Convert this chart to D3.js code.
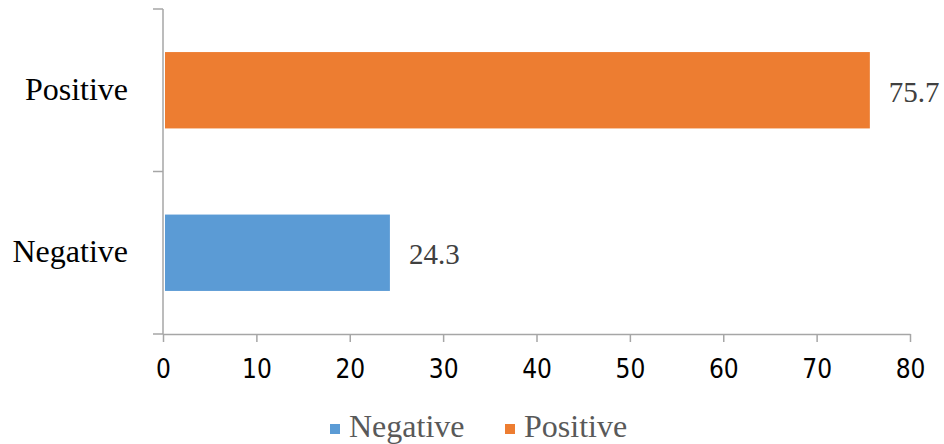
<!DOCTYPE html>
<html>
<head>
<meta charset="utf-8">
<script src="https://cdn.jsdelivr.net/npm/d3@7"></script>
<style>
  html, body { margin: 0; padding: 0; background: #fff; }
  svg { display: block; }
</style>
</head>
<body>
<svg id="chart" width="944" height="444"></svg>
<script>
// Chart data
const categories = ["Negative", "Positive"];
const values = [24.3, 75.7];
const colors = ["#5B9BD5", "#ED7D31"];
const xTicks = [0, 10, 20, 30, 40, 50, 60, 70, 80];

const svg = d3.select("#chart");
const margin = { left: 163, right: 34, top: 9, bottom: 110 };
const width = 944, height = 444;
const plotBottom = height - margin.bottom; // 334

const serif = "'Liberation Serif', 'Times New Roman', serif";
const narrow = "'Liberation Sans Narrow', 'DejaVu Sans Condensed', 'Arial Narrow', sans-serif";

const x = d3.scaleLinear().domain([0, 80]).range([margin.left, width - margin.right]);
// categories listed bottom to top
const y = d3.scaleBand()
  .domain(categories.slice().reverse())
  .range([margin.top, plotBottom])
  .paddingInner(0.53)
  .paddingOuter(0.265);

const axisColor = "#a6a6a6";

// bars
svg.append("g").selectAll("rect")
  .data(categories)
  .join("rect")
  .attr("x", x(0) + 2)
  .attr("y", d => y(d))
  .attr("width", (d, i) => x(values[i]) - x(0) - 2)
  .attr("height", y.bandwidth())
  .attr("fill", (d, i) => colors[i]);

// value labels
svg.append("g").selectAll("text")
  .data(categories)
  .join("text")
  .attr("x", (d, i) => x(values[i]) + 19)
  .attr("y", d => y(d) + y.bandwidth() / 2)
  .attr("dy", "0.4em")
  .attr("font-family", serif)
  .attr("font-size", 29)
  .attr("fill", "#404040")
  .text((d, i) => values[i].toFixed(1));

// x axis
const xAxis = svg.append("g")
  .attr("transform", `translate(0,${plotBottom})`)
  .call(d3.axisBottom(x).tickValues(xTicks).tickSize(8).tickSizeOuter(0));
xAxis.select(".domain").attr("stroke", axisColor).attr("stroke-width", 1.5);
xAxis.selectAll(".tick line").attr("stroke", axisColor).attr("stroke-width", 1.5);
xAxis.selectAll(".tick text")
  .attr("y", 44)
  .attr("dy", null)
  .attr("font-family", narrow)
  .attr("font-size", 26)
  .attr("fill", "#000");

// y axis: line with ticks at category boundaries
const yBounds = [margin.top, (margin.top + plotBottom) / 2, plotBottom];
svg.append("line")
  .attr("x1", x(0)).attr("x2", x(0))
  .attr("y1", margin.top).attr("y2", plotBottom)
  .attr("stroke", axisColor).attr("stroke-width", 1.5);
svg.append("g").selectAll("line")
  .data(yBounds)
  .join("line")
  .attr("x1", x(0) - 10).attr("x2", x(0))
  .attr("y1", d => d).attr("y2", d => d)
  .attr("stroke", axisColor).attr("stroke-width", 1.5);

// category labels
svg.append("g").selectAll("text")
  .data(categories)
  .join("text")
  .attr("x", 128)
  .attr("y", d => y(d) + y.bandwidth() / 2)
  .attr("dy", "0.3em")
  .attr("text-anchor", "end")
  .attr("font-family", serif)
  .attr("font-size", 32)
  .attr("fill", "#000")
  .text(d => d);

// legend
const legendX = [330, 505];
const legend = svg.append("g").selectAll("g")
  .data(categories)
  .join("g")
  .attr("transform", (d, i) => `translate(${legendX[i]},424)`);
legend.append("rect")
  .attr("width", 10).attr("height", 10)
  .attr("fill", (d, i) => colors[i]);
legend.append("text")
  .attr("x", 19).attr("y", 13)
  .attr("font-family", serif)
  .attr("font-size", 32)
  .attr("fill", "#595959")
  .text(d => d);
</script>
</body>
</html>
